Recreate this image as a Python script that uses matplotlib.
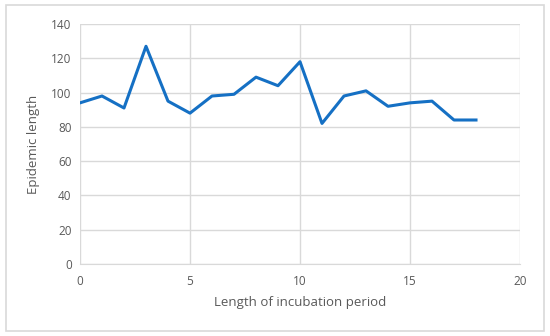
import matplotlib
matplotlib.use("Agg")
import matplotlib.pyplot as plt
from matplotlib.patches import Rectangle

# incubation period vs epidemic length
incubation = [0, 1, 2, 3, 4, 5, 6, 7, 8, 9, 10, 11, 12, 13, 14, 15, 16, 17, 18]
epidemic = [94, 98, 91, 127, 95, 88, 98, 99, 109, 104, 118, 82, 98, 101, 92, 94, 95, 84, 84]
xticks = [0, 5, 10, 15, 20]
yticks = [0, 20, 40, 60, 80, 100, 120, 140]

plt.rcParams['font.family'] = ['Open Sans', 'DejaVu Sans']
grey = '#595959'
grid = '#D9D9D9'

fig = plt.figure(figsize=(5.5, 3.36), dpi=100)
fig.patches.append(Rectangle((6 / 550, 5 / 336), 538 / 550, 326 / 336, transform=fig.transFigure,
                             fill=False, edgecolor=grid, linewidth=1.2))
ax = fig.add_axes([80 / 550, 72 / 336, 440 / 550, 240 / 336])

ax.plot(incubation, epidemic, color='#1570C4', linewidth=2.2)

ax.set_xlim(0, 20)
ax.set_ylim(0, 140)
ax.set_xticks(xticks)
ax.set_yticks(yticks)
ax.grid(True, color=grid, linewidth=1)
ax.set_axisbelow(True)
for side in ['top', 'right', 'left']:
    ax.spines[side].set_visible(False)
ax.spines['bottom'].set_color(grid)
ax.tick_params(length=0, colors=grey, labelsize=8.5, pad=8)
ax.tick_params(axis='y', pad=6)
ax.set_xlabel('Length of incubation period', color=grey, fontsize=9.5, labelpad=6)
ax.set_ylabel('Epidemic length', color=grey, fontsize=9.5, labelpad=8)

fig.savefig('out.png', dpi=100)
